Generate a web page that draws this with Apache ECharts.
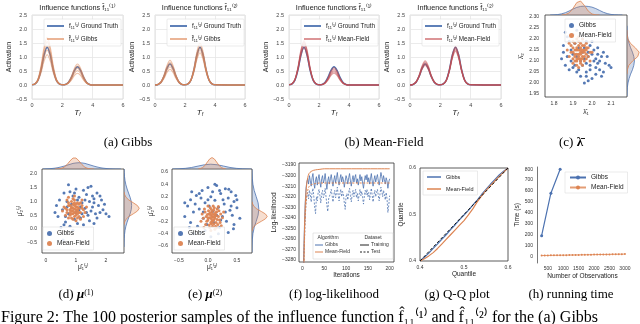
<!DOCTYPE html>
<html><head><meta charset="utf-8">
<script src="https://cdn.jsdelivr.net/npm/echarts@6/dist/echarts.min.js"></script>
<style>html,body{margin:0;padding:0;background:#fff}#c{width:640px;height:324px}</style>
</head><body><div id="c"></div>
<script>
// ---------------- DATA ----------------
const T_GRID = [0,0.2,0.4,0.6,0.8,1.0,1.2,1.4,1.6,1.8,2.0,2.2,2.4,2.6,2.8,3.0,3.2,3.4,3.6,3.8,4.0,6.0];
const TRUTH_F1 = [0.01,0.04,0.18,0.55,1.08,1.35,1.08,0.55,0.18,0.04,0.01,0.02,0.09,0.27,0.52,0.65,0.52,0.27,0.09,0.02,0,0];
const TRUTH_F2 = [0,0.02,0.10,0.31,0.60,0.75,0.60,0.31,0.10,0.02,0.01,0.04,0.18,0.55,1.08,1.35,1.08,0.55,0.18,0.04,0.01,0];
const GIBBS_F1 = [
 [0.01,0.03,0.15,0.44,0.86,1.08,0.86,0.44,0.15,0.03,0.01,0.01,0.06,0.17,0.34,0.42,0.34,0.17,0.06,0.01,0,0],
 [0.01,0.04,0.17,0.51,1.00,1.25,1.00,0.51,0.17,0.04,0.01,0.02,0.07,0.21,0.42,0.52,0.42,0.21,0.07,0.02,0,0],
 [0.01,0.04,0.19,0.57,1.12,1.40,1.12,0.57,0.19,0.04,0.01,0.02,0.08,0.25,0.48,0.60,0.48,0.25,0.08,0.02,0,0],
 [0.01,0.05,0.21,0.64,1.24,1.55,1.24,0.64,0.21,0.05,0.01,0.02,0.09,0.28,0.54,0.68,0.54,0.28,0.09,0.02,0,0],
 [0.01,0.05,0.23,0.70,1.36,1.70,1.36,0.70,0.23,0.05,0.01,0.02,0.10,0.31,0.60,0.75,0.60,0.31,0.10,0.02,0,0]];
const GIBBS_F2 = [
 [0,0.02,0.08,0.23,0.45,0.56,0.45,0.23,0.08,0.02,0.01,0.03,0.16,0.47,0.92,1.15,0.92,0.47,0.16,0.03,0.01,0],
 [0,0.02,0.09,0.27,0.52,0.65,0.52,0.27,0.09,0.02,0.01,0.04,0.17,0.51,0.99,1.24,0.99,0.51,0.17,0.04,0.01,0],
 [0,0.02,0.10,0.30,0.58,0.73,0.58,0.30,0.10,0.02,0.01,0.04,0.18,0.54,1.06,1.32,1.06,0.54,0.18,0.04,0.01,0],
 [0,0.02,0.11,0.33,0.64,0.80,0.64,0.33,0.11,0.02,0.01,0.04,0.19,0.57,1.12,1.40,1.12,0.57,0.19,0.04,0.01,0],
 [0,0.03,0.12,0.36,0.70,0.88,0.70,0.36,0.12,0.03,0.01,0.05,0.20,0.62,1.20,1.50,1.20,0.62,0.20,0.05,0.01,0]];
const MF_F1 = [
 [0.01,0.04,0.18,0.55,1.06,1.33,1.06,0.55,0.18,0.04,0.01,0.01,0.06,0.17,0.34,0.42,0.34,0.17,0.06,0.01,0,0],
 [0.01,0.04,0.19,0.57,1.12,1.40,1.12,0.57,0.19,0.04,0.01,0.01,0.06,0.19,0.38,0.47,0.38,0.19,0.06,0.01,0,0],
 [0.01,0.04,0.20,0.60,1.17,1.46,1.17,0.60,0.20,0.04,0.01,0.02,0.07,0.21,0.42,0.52,0.42,0.21,0.07,0.02,0,0],
 [0.01,0.05,0.21,0.62,1.22,1.52,1.22,0.62,0.21,0.05,0.01,0.02,0.08,0.23,0.46,0.57,0.46,0.23,0.08,0.02,0,0],
 [0.01,0.05,0.21,0.65,1.26,1.58,1.26,0.65,0.21,0.05,0.01,0.02,0.08,0.25,0.50,0.62,0.50,0.25,0.08,0.02,0,0]];
const MF_F2 = [
 [0,0.02,0.09,0.29,0.56,0.70,0.56,0.29,0.09,0.02,0.01,0.04,0.16,0.49,0.96,1.20,0.96,0.49,0.16,0.04,0.01,0],
 [0,0.02,0.10,0.30,0.59,0.74,0.59,0.30,0.10,0.02,0.01,0.04,0.17,0.51,1.00,1.25,1.00,0.51,0.17,0.04,0.01,0],
 [0,0.02,0.11,0.32,0.62,0.78,0.62,0.32,0.11,0.02,0.01,0.04,0.17,0.53,1.03,1.29,1.03,0.53,0.17,0.04,0.01,0],
 [0,0.02,0.11,0.34,0.66,0.82,0.66,0.34,0.11,0.02,0.01,0.04,0.18,0.55,1.06,1.33,1.06,0.55,0.18,0.04,0.01,0],
 [0,0.03,0.12,0.35,0.69,0.86,0.69,0.35,0.12,0.03,0.01,0.04,0.18,0.56,1.10,1.37,1.10,0.56,0.18,0.04,0.01,0]];

const LAMBDA_GIBBS = [[1.86,2.23],[1.87,2.21],[1.85,2.17],[1.84,2.11],[1.88,2.19],[1.90,2.22],[1.92,2.24],[1.95,2.20],[1.97,2.19],[1.99,2.17],[2.01,2.15],[2.03,2.13],[2.05,2.12],[2.07,2.09],[2.09,2.08],[2.06,2.05],[2.04,2.06],[2.02,2.04],[2.00,2.02],[1.98,2.01],[1.96,2.00],[1.97,2.05],[1.99,2.08],[2.01,2.10],[2.03,2.09],[1.94,2.03],[1.92,2.05],[1.90,2.07],[1.88,2.06],[1.86,2.08],[1.87,2.12],[1.89,2.10],[1.91,2.08],[1.93,2.06],[1.95,2.08],[1.96,2.11],[1.98,2.12],[2.00,2.13],[2.02,2.07],[2.04,2.10],[2.06,2.14],[2.08,2.12],[1.99,2.06],[1.97,2.09],[1.95,2.14],[1.93,2.16],[1.91,2.18],[1.89,2.15],[1.94,2.10],[2.00,2.19],[1.96,2.16],[2.05,2.03],[1.92,2.12],[1.98,2.14],[2.02,2.11],[1.90,2.13],[2.10,2.07],[1.85,2.14],[2.03,2.16],[1.97,2.03]];
const LAMBDA_MF = [[1.93,2.13],[1.94,2.14],[1.92,2.15],[1.95,2.12],[1.91,2.13],[1.96,2.15],[1.93,2.17],[1.94,2.11],[1.90,2.16],[1.97,2.13],[1.92,2.10],[1.95,2.17],[1.89,2.14],[1.98,2.16],[1.93,2.19],[1.94,2.09],[1.91,2.18],[1.96,2.10],[1.88,2.12],[1.99,2.14],[1.92,2.20],[1.95,2.08],[1.90,2.11],[1.97,2.18],[1.93,2.15],[1.94,2.16],[1.92,2.13],[1.95,2.14],[1.91,2.15],[1.96,2.12],[1.90,2.19],[1.97,2.11],[1.89,2.17],[1.98,2.12],[1.93,2.11],[1.94,2.18],[1.92,2.08],[1.95,2.20],[1.91,2.10],[1.96,2.17],[1.93,2.07],[1.94,2.13],[1.87,2.15],[2.00,2.14],[1.92,2.16],[1.95,2.15],[1.91,2.12],[1.96,2.14],[1.90,2.14],[1.97,2.15],[1.93,2.21],[1.94,2.10],[1.88,2.18],[1.99,2.10],[1.92,2.11],[1.95,2.11],[1.90,2.09],[1.97,2.16],[1.93,2.12],[1.94,2.15]];
const MU1_GIBBS = [[0.75,1.60],[1.50,1.55],[1.00,1.45],[1.25,1.40],[0.60,1.30],[1.70,1.30],[0.90,1.20],[1.35,1.25],[1.60,1.10],[1.85,1.05],[0.45,1.05],[1.10,1.15],[1.45,1.00],[0.70,1.00],[1.20,0.95],[1.95,0.90],[1.75,0.85],[0.35,0.85],[1.55,0.80],[1.30,0.75],[2.00,0.55],[2.10,0.45],[1.80,0.60],[1.65,0.55],[1.40,0.50],[0.85,0.90],[1.05,1.05],[0.55,0.70],[1.15,0.40],[0.95,0.35],[1.45,0.30],[0.65,0.25],[0.50,0.05],[0.60,0.15],[0.80,0.10],[1.25,0.15],[0.90,-0.05],[0.57,-0.40],[1.60,0.20],[1.35,0.60],[1.00,0.60],[0.75,0.55],[1.90,0.70],[1.15,0.80],[1.55,1.20],[0.80,1.35],[1.30,1.05],[0.40,0.45],[1.70,0.40],[1.05,0.20],[0.70,0.80],[1.50,0.65],[1.20,0.55],[0.95,1.30],[1.80,1.20],[0.30,0.60],[1.40,1.50],[1.10,0.70],[0.65,0.45],[1.60,0.95]];
const MU1_MF = [[0.95,0.72],[0.85,0.80],[1.05,0.65],[0.90,0.55],[1.00,0.90],[0.80,0.70],[1.10,0.75],[0.95,0.45],[0.75,0.85],[1.15,0.60],[0.85,1.00],[1.05,0.95],[0.70,0.60],[1.20,0.85],[0.90,0.35],[1.00,0.50],[0.65,0.75],[1.25,0.70],[0.95,1.05],[0.80,0.50],[1.10,0.45],[0.85,0.65],[1.05,0.80],[0.90,0.90],[1.00,0.70],[0.75,0.95],[1.15,0.95],[0.60,0.80],[1.30,0.60],[0.95,0.60],[0.85,0.40],[1.05,0.40],[0.70,1.05],[1.20,1.05],[0.90,0.75],[1.00,0.80],[0.80,0.85],[1.10,0.90],[0.95,0.85],[0.85,0.55],[1.10,0.60],[0.65,0.50],[1.25,0.45],[0.95,1.20],[0.75,0.40],[1.15,0.35],[0.90,0.65],[1.00,0.60],[0.80,0.60],[1.05,0.55],[0.55,0.65],[1.35,0.80],[0.90,1.10],[1.00,0.30],[0.70,0.70],[1.20,0.75],[0.85,0.75],[1.05,0.70],[0.95,0.95],[0.75,1.15]];
const MU2_GIBBS = [[0.00,0.35],[0.15,0.38],[0.30,0.33],[-0.10,0.30],[0.40,0.28],[0.22,0.25],[-0.20,0.22],[0.05,0.20],[0.35,0.18],[-0.30,0.15],[0.45,0.12],[0.12,0.14],[-0.05,0.10],[0.28,0.08],[-0.35,0.05],[0.50,0.02],[0.18,0.03],[-0.15,0.00],[0.38,-0.02],[-0.25,-0.05],[0.08,-0.04],[0.42,-0.10],[-0.40,-0.12],[0.25,-0.12],[-0.08,-0.15],[0.32,-0.20],[-0.30,-0.22],[0.45,-0.25],[0.10,-0.22],[-0.18,-0.28],[0.20,-0.30],[-0.05,-0.35],[0.35,-0.38],[-0.25,-0.40],[0.05,-0.45],[0.15,-0.10],[-0.12,0.18],[0.20,0.30],[0.48,0.22],[-0.22,0.08],[0.02,0.05],[0.30,-0.05],[-0.02,-0.25],[0.40,0.05],[-0.32,-0.30],[0.12,0.40],[0.26,0.15],[-0.15,0.25],[0.55,-0.15],[0.08,0.28],[-0.08,-0.05],[0.36,0.32],[-0.28,0.28],[0.18,-0.40],[0.50,0.15],[-0.40,0.10],[0.22,-0.18],[-0.12,-0.38],[0.00,0.15],[0.44,-0.32]];
const MU2_MF = [[0.07,-0.12],[0.02,-0.08],[0.12,-0.15],[0.00,-0.18],[0.15,-0.05],[0.05,-0.22],[0.10,-0.02],[-0.03,-0.12],[0.18,-0.12],[0.08,-0.28],[0.04,0.02],[0.14,-0.22],[-0.05,-0.05],[0.20,-0.18],[0.06,-0.16],[0.11,-0.09],[-0.02,-0.20],[0.16,0.00],[0.03,-0.30],[0.13,-0.28],[0.09,0.05],[-0.08,-0.15],[0.22,-0.08],[0.01,-0.03],[0.17,-0.25],[0.07,-0.05],[0.05,-0.10],[0.10,-0.18],[-0.04,-0.25],[0.25,-0.14],[0.00,0.05],[0.12,-0.33],[0.08,-0.20],[0.14,-0.10],[-0.10,-0.08],[0.19,-0.03],[0.03,-0.14],[0.09,-0.13],[0.06,-0.24],[0.16,-0.17],[-0.06,0.00],[0.11,0.02],[0.02,-0.26],[0.21,-0.22],[0.04,-0.06],[0.13,-0.06],[0.07,-0.19],[-0.01,-0.09],[0.15,-0.30],[0.10,-0.24],[0.27,-0.05],[-0.12,-0.20],[0.05,-0.35],[0.18,0.04],[0.08,-0.08],[0.00,-0.14],[0.12,-0.12],[0.06,-0.01],[0.23,-0.27],[-0.07,-0.30]];

// marginal KDEs: [position, density]
const C_TOP_GIBBS = [[1.78,0],[1.80,0.01],[1.82,0.03],[1.84,0.08],[1.86,0.16],[1.88,0.28],[1.90,0.42],[1.92,0.53],[1.94,0.60],[1.96,0.62],[1.98,0.60],[2.00,0.55],[2.02,0.45],[2.04,0.32],[2.06,0.19],[2.08,0.10],[2.10,0.04],[2.12,0.015],[2.14,0.005],[2.16,0]];
const C_TOP_MF = [[1.84,0],[1.86,0.03],[1.88,0.15],[1.90,0.46],[1.92,0.87],[1.94,0.98],[1.96,0.67],[1.98,0.28],[2.00,0.07],[2.02,0.01],[2.04,0]];
const C_RIGHT_GIBBS = [[1.94,0],[1.96,0.01],[1.98,0.03],[2.00,0.08],[2.02,0.17],[2.04,0.29],[2.06,0.44],[2.08,0.55],[2.10,0.60],[2.12,0.55],[2.14,0.44],[2.16,0.29],[2.18,0.17],[2.20,0.08],[2.22,0.03],[2.24,0.01],[2.26,0]];
const C_RIGHT_MF = [[2.04,0],[2.06,0.03],[2.08,0.15],[2.10,0.46],[2.12,0.87],[2.14,0.98],[2.16,0.67],[2.18,0.28],[2.20,0.07],[2.22,0.01],[2.24,0]];
const D_TOP_GIBBS = [[-0.1,0],[0.0,0.012],[0.1,0.024],[0.2,0.044],[0.3,0.074],[0.4,0.12],[0.5,0.18],[0.6,0.25],[0.7,0.33],[0.8,0.41],[0.9,0.49],[1.0,0.53],[1.1,0.55],[1.2,0.53],[1.3,0.49],[1.4,0.41],[1.5,0.33],[1.6,0.25],[1.7,0.18],[1.8,0.12],[1.9,0.074],[2.0,0.044],[2.1,0.024],[2.2,0.012],[2.3,0.006],[2.4,0.003],[2.5,0]];
const D_TOP_MF = [[0.3,0],[0.4,0.01],[0.5,0.044],[0.6,0.15],[0.7,0.38],[0.8,0.71],[0.9,0.96],[1.0,0.96],[1.1,0.71],[1.2,0.38],[1.3,0.15],[1.4,0.044],[1.5,0.01],[1.6,0]];
const D_RIGHT_GIBBS = [[-0.65,0],[-0.5,0.005],[-0.35,0.014],[-0.2,0.033],[-0.05,0.068],[0.1,0.125],[0.25,0.205],[0.4,0.30],[0.55,0.40],[0.7,0.475],[0.85,0.5],[1.0,0.475],[1.15,0.40],[1.3,0.30],[1.45,0.205],[1.6,0.125],[1.75,0.068],[1.9,0.033],[2.05,0.014],[2.17,0.005]];
const D_RIGHT_MF = [[0.15,0],[0.25,0.04],[0.35,0.13],[0.45,0.32],[0.55,0.61],[0.65,0.88],[0.75,1],[0.85,0.88],[0.95,0.61],[1.05,0.32],[1.15,0.13],[1.25,0.04],[1.35,0]];
const E_TOP_GIBBS = [[-0.61,0],[-0.5,0.018],[-0.39,0.057],[-0.28,0.135],[-0.17,0.256],[-0.06,0.37],[0.05,0.42],[0.16,0.37],[0.27,0.256],[0.38,0.135],[0.49,0.057],[0.6,0.018],[0.71,0.005],[0.75,0]];
const E_TOP_MF = [[-0.17,0],[-0.13,0.044],[-0.09,0.135],[-0.05,0.32],[-0.01,0.61],[0.03,0.88],[0.07,1],[0.11,0.88],[0.15,0.61],[0.19,0.32],[0.23,0.135],[0.27,0.044],[0.31,0]];
const E_RIGHT_GIBBS = [[-0.7,0],[-0.6,0.005],[-0.5,0.02],[-0.4,0.06],[-0.3,0.145],[-0.2,0.275],[-0.1,0.40],[0,0.45],[0.1,0.40],[0.2,0.275],[0.3,0.145],[0.4,0.06],[0.5,0.02],[0.6,0.005],[0.64,0]];
const E_RIGHT_MF = [[-0.36,0],[-0.32,0.044],[-0.28,0.135],[-0.24,0.32],[-0.2,0.61],[-0.16,0.88],[-0.12,1],[-0.08,0.88],[-0.04,0.61],[0,0.32],[0.04,0.135],[0.08,0.044],[0.12,0]];

// log-likelihood (Gibbs sampled every LL_STEP iterations)
const LL_STEP = 2;
const LL_GIBBS_TRAIN = [-3300,-3290,-3255,-3228,-3212,-3206,-3203,-3208,-3200,-3205,
 -3210,-3202,-3198,-3207,-3212,-3204,-3201,-3209,-3203,-3199,
 -3206,-3211,-3203,-3200,-3207,-3204,-3198,-3206,-3213,-3205,
 -3201,-3208,-3203,-3199,-3205,-3210,-3204,-3200,-3207,-3202,
 -3197,-3205,-3209,-3203,-3199,-3206,-3201,-3204,-3211,-3205,
 -3200,-3203,-3208,-3202,-3198,-3205,-3210,-3204,-3200,-3206,
 -3202,-3199,-3207,-3203,-3209,-3204,-3199,-3205,-3201,-3207,
 -3212,-3205,-3200,-3204,-3199,-3206,-3202,-3208,-3203,-3198,
 -3205,-3210,-3204,-3200,-3206,-3202,-3199,-3205,-3209,-3203,
 -3197,-3201,-3206,-3200,-3204,-3208,-3202,-3205,-3212,-3206,-3203];
const LL_GIBBS_TEST = [-3300,-3295,-3268,-3242,-3226,-3219,-3216,-3222,-3214,-3218,
 -3225,-3216,-3212,-3220,-3230,-3236,-3220,-3224,-3216,-3213,
 -3219,-3226,-3217,-3214,-3221,-3218,-3212,-3220,-3228,-3234,
 -3222,-3223,-3217,-3213,-3219,-3225,-3218,-3214,-3221,-3216,
 -3211,-3219,-3224,-3217,-3213,-3220,-3215,-3218,-3226,-3232,
 -3220,-3217,-3223,-3216,-3212,-3219,-3225,-3218,-3214,-3220,
 -3216,-3213,-3221,-3217,-3224,-3218,-3213,-3219,-3215,-3221,
 -3227,-3219,-3214,-3218,-3213,-3220,-3216,-3223,-3217,-3212,
 -3219,-3225,-3218,-3214,-3220,-3216,-3213,-3219,-3224,-3217,
 -3211,-3215,-3220,-3214,-3218,-3223,-3216,-3222,-3235,-3228,-3219];
const LL_MF_ITER = [0,2,4,6,8,10,12,15,20,25,30,40,50,75,100,150,200];
const LL_MF_TRAIN = [-3300,-3300,-3262,-3232,-3216,-3207,-3202,-3198,-3196,-3195,-3194.5,-3194,-3193.5,-3193.5,-3193.5,-3193.5,-3193.5];
const LL_MF_TEST = [-3300,-3300,-3272,-3243,-3227,-3219,-3214,-3210.5,-3208.5,-3208,-3207.5,-3207,-3207,-3207,-3207,-3207,-3207];

// Q-Q
const QQ_X = [0.40,0.41,0.42,0.43,0.44,0.45,0.46,0.47,0.48,0.49,0.50,0.51,0.52,0.53,0.54,0.55,0.56,0.57,0.58,0.59,0.60];
const QQ_GIBBS = [0.400,0.408,0.417,0.427,0.437,0.447,0.457,0.468,0.478,0.489,0.499,0.509,0.520,0.531,0.543,0.554,0.565,0.575,0.585,0.593,0.600];
const QQ_MF = [0.400,0.405,0.411,0.418,0.427,0.437,0.447,0.457,0.467,0.477,0.487,0.499,0.512,0.527,0.540,0.552,0.562,0.572,0.582,0.591,0.600];
const QQ_REF = [0.4,0.6];

// running time
const RT_GIBBS_N = [300,600,900];
const RT_GIBBS = [190,580,800];
const RT_MF_N = [300,400,500,600,700,800,900,1000,1100,1200,1300,1400,1500,1600,1700,1800,1900,2000,2100,2200,2300,2400,2500,2600,2700,2800,2900,3000];
const RT_MF = [8,9,9,10,10,11,11,12,12,13,13,14,14,15,15,16,16,17,17,18,18,19,19,20,20,21,21,22];

// tick labels
const C_X_TICKS = [1.8,1.9,2.0,2.1];
const C_Y_TICKS = [1.95,2.00,2.05,2.10,2.15,2.20,2.25,2.30];
const D_X_TICKS = [0,1,2];
const D_Y_TICKS = [-0.5,0,0.5,1.0,1.5,2.0];
const E_X_TICKS = [-0.5,0,0.5];
const E_Y_TICKS = [-0.6,-0.4,-0.2,0,0.2,0.4,0.6];
const F_X_TICKS = [0,50,100,150,200];
const F_Y_TICKS = [-3280,-3270,-3260,-3250,-3240,-3230,-3220,-3210,-3200,-3190];
const H_X_TICKS = [500,1000,1500,2000,2500,3000];
const H_Y_TICKS = [0,100,200,300,400,500,600,700,800];

// ---------------- STYLE / BUILD ----------------
const BLUE='#4C72B0', ORANGE='#DD8452', RED='#C44E52';
const FONT='"Liberation Sans", Arial, sans-serif';
const SERIF='"Liberation Serif", "Times New Roman", serif';
const fmt = d => v => (v < 0 ? '\u2212' : '') + Math.abs(v).toFixed(d);

const grid=[], xAxis=[], yAxis=[], series=[], legend=[], title=[], graphic=[];
function panel(g, xa, ya){ const i=grid.length; grid.push(g); xa.gridIndex=i; ya.gridIndex=i; xAxis.push(xa); yAxis.push(ya); return i; }
function hidden(min,max){ return {type:'value', show:false, min, max}; }
function boxAxis(min, max, ticks, d, name, gap, margin, extra){
  return Object.assign({type:'value', min, max, axisLine:{show:false}, axisTick:{show:false}, splitLine:{show:false},
    axisLabel:{customValues:ticks, formatter:fmt(d), fontSize:5, color:'#333', fontFamily:FONT, margin:margin},
    name, nameLocation:'middle', nameGap:gap, nameTextStyle:{fontSize:6.5, color:'#222', fontFamily:FONT}}, extra||{});
}
const LBL = {};

// top row
const TOP = [
 {left:32, width:91, truth:TRUTH_F1, samples:GIBBS_F1, color:ORANGE, t:'Influence functions f\u0302\u2081\u2081\u207D\u00B9\u207E', tn:'f\u2081\u2081\u207D\u00B9\u207E Ground Truth', sn:'f\u0302\u2081\u2081\u207D\u00B9\u207E Gibbs'},
 {left:155, width:90, truth:TRUTH_F2, samples:GIBBS_F2, color:ORANGE, t:'Influence functions f\u0302\u2081\u2081\u207D\u00B2\u207E', tn:'f\u2081\u2081\u207D\u00B2\u207E Ground Truth', sn:'f\u0302\u2081\u2081\u207D\u00B2\u207E Gibbs'},
 {left:289, width:90, truth:TRUTH_F1, samples:MF_F1, color:RED, t:'Influence functions f\u0302\u2081\u2081\u207D\u00B9\u207E', tn:'f\u2081\u2081\u207D\u00B9\u207E Ground Truth', sn:'f\u0302\u2081\u2081\u207D\u00B9\u207E Mean-Field'},
 {left:410, width:91, truth:TRUTH_F2, samples:MF_F2, color:RED, t:'Influence functions f\u0302\u2081\u2081\u207D\u00B2\u207E', tn:'f\u2081\u2081\u207D\u00B2\u207E Ground Truth', sn:'f\u0302\u2081\u2081\u207D\u00B2\u207E Mean-Field'}];
TOP.forEach(P => {
  const gi = panel({left:P.left, top:15, width:P.width, height:84, show:true, borderColor:'#d6d6d6', borderWidth:0.8},
    {type:'value', min:0, max:6, interval:2, axisLine:{show:false}, axisTick:{show:false},
     splitLine:{show:true, lineStyle:{color:'#e6e6e6', width:0.8}},
     axisLabel:{fontSize:5.5, color:'#444', margin:3, fontFamily:FONT},
     name:'{i|T}{s|f}', nameLocation:'middle', nameGap:8,
     nameTextStyle:{rich:{i:{fontSize:8, fontStyle:'italic', fontFamily:FONT, color:'#222'}, s:{fontSize:5, fontStyle:'italic', fontFamily:FONT, color:'#222', verticalAlign:'bottom'}}}},
    {type:'value', min:-0.5, max:2.5, interval:0.5, axisLine:{show:false}, axisTick:{show:false},
     splitLine:{show:true, lineStyle:{color:'#e6e6e6', width:0.8}},
     axisLabel:{fontSize:5.5, color:'#444', margin:5, fontFamily:FONT, formatter:fmt(1)},
     name:'Activation', nameLocation:'middle', nameGap:16, nameTextStyle:{fontSize:7, color:'#222', fontFamily:FONT}});
  series.push({type:'line', name:P.tn, xAxisIndex:gi, yAxisIndex:gi, data:T_GRID.map((t,i)=>[t,P.truth[i]]),
    symbol:'none', smooth:0.35, lineStyle:{color:BLUE, width:1.6}, itemStyle:{color:BLUE}, z:2});
  P.samples.forEach(s => series.push({type:'line', name:P.sn, xAxisIndex:gi, yAxisIndex:gi, data:T_GRID.map((t,i)=>[t,s[i]]),
    symbol:'none', smooth:0.35, lineStyle:{color:P.color, width:1.1, opacity:0.5}, itemStyle:{color:P.color}, z:3}));
  legend.push({left:P.left+12, top:19, orient:'vertical', icon:'rect', itemWidth:17, itemHeight:2, itemGap:7,
    data:[{name:P.tn, itemStyle:{color:BLUE, opacity:0.9}}, {name:P.sn, itemStyle:{color:P.color, opacity:0.6}}],
    padding:[4,3,4,3], backgroundColor:'rgba(255,255,255,0.8)', borderColor:'#dddddd', borderWidth:0.6, borderRadius:1,
    textStyle:{fontSize:6.3, color:'#222', fontFamily:FONT}});
  title.push({text:P.t, left:P.left+P.width/2, top:4, textAlign:'center', padding:0,
    textStyle:{fontSize:7.3, fontWeight:'normal', color:'#222', fontFamily:FONT}});
});

function kde(name, pairs, color, gi, vertical){
  series.push({type:'custom', name, xAxisIndex:gi, yAxisIndex:gi, data:[[0,0]], silent:true, clip:true, z:2,
    renderItem(params, api){
      const pts = pairs.map(p => vertical ? api.coord([p[1], p[0]]) : api.coord([p[0], p[1]]));
      const f = pairs[0][0], l = pairs[pairs.length-1][0];
      const b0 = vertical ? api.coord([0, f]) : api.coord([f, 0]);
      const b1 = vertical ? api.coord([0, l]) : api.coord([l, 0]);
      return {type:'group', children:[
        {type:'polygon', shape:{points:[b0].concat(pts,[b1])}, style:{fill:color, opacity:0.27}},
        {type:'polyline', shape:{points:pts}, style:{stroke:color, lineWidth:0.8, fill:null}}]};
    }});
}
const boxGrid = (l,t,w,h) => ({left:l, top:t, width:w, height:h, show:true, borderColor:'#333', borderWidth:0.8});

function joint(cfg){
  const gm = panel(boxGrid(cfg.l, cfg.t, cfg.w, cfg.h),
    boxAxis(cfg.x0, cfg.x1, cfg.xt, cfg.xd, cfg.xn, cfg.xg, cfg.xm),
    boxAxis(cfg.y0, cfg.y1, cfg.yt, cfg.yd, cfg.yn, cfg.yg, cfg.ym));
  const gt = panel({left:cfg.l, top:cfg.t-cfg.mt, width:cfg.w, height:cfg.mt}, hidden(cfg.x0,cfg.x1), hidden(0,1.05));
  const gr = panel({left:cfg.l+cfg.w, top:cfg.t, width:cfg.mr, height:cfg.h}, hidden(0,1.05), hidden(cfg.y0,cfg.y1));
  LBL[cfg.id+'g']='Gibbs'; LBL[cfg.id+'m']='Mean-Field';
  series.push({type:'scatter', name:cfg.id+'g', xAxisIndex:gm, yAxisIndex:gm, data:cfg.g, symbolSize:3, itemStyle:{color:BLUE, opacity:0.95}});
  series.push({type:'scatter', name:cfg.id+'m', xAxisIndex:gm, yAxisIndex:gm, data:cfg.m, symbolSize:3, itemStyle:{color:ORANGE, opacity:0.95}});
  kde(cfg.id+'tg', cfg.tg, BLUE, gt, false); kde(cfg.id+'tm', cfg.tm, ORANGE, gt, false);
  kde(cfg.id+'rg', cfg.rg, BLUE, gr, true); kde(cfg.id+'rm', cfg.rm, ORANGE, gr, true);
  legend.push({left:cfg.lx, top:cfg.ly, orient:'vertical', data:[cfg.id+'g', cfg.id+'m'], formatter:n=>LBL[n],
    itemWidth:5, itemHeight:5, itemGap:3, padding:[3,4], backgroundColor:'rgba(255,255,255,0.85)', borderColor:'#dddddd', borderWidth:0.6,
    textStyle:{fontSize:6.5, color:'#222', fontFamily:FONT}});
}
joint({id:'c', l:545, t:15, w:82, h:82, mt:15, mr:13, x0:1.753, x1:2.184, xt:C_X_TICKS, xd:1, xn:'\u03BB\u0302\u2081', xg:12, xm:4,
  y0:1.936, y1:2.309, yt:C_Y_TICKS, yd:2, yn:'\u03BB\u0302\u2082', yg:20, ym:6, g:LAMBDA_GIBBS, m:LAMBDA_MF,
  tg:C_TOP_GIBBS, tm:C_TOP_MF, rg:C_RIGHT_GIBBS, rm:C_RIGHT_MF, lx:565, ly:19});
joint({id:'d', l:42, t:169, w:82, h:84, mt:12, mr:16, x0:-0.133, x1:2.6, xt:D_X_TICKS, xd:0, xn:'\u03BC\u0302\u2081\u207D\u00B9\u207E', xg:10, xm:5,
  y0:-0.87, y1:2.174, yt:D_Y_TICKS, yd:1, yn:'\u03BC\u0302\u2082\u207D\u00B9\u207E', yg:13, ym:5, g:MU1_GIBBS, m:MU1_MF,
  tg:D_TOP_GIBBS, tm:D_TOP_MF, rg:D_RIGHT_GIBBS, rm:D_RIGHT_MF, lx:43, ly:227});
joint({id:'e', l:172, t:169, w:80, h:84, mt:12, mr:16, x0:-0.62, x1:0.76, xt:E_X_TICKS, xd:1, xn:'\u03BC\u0302\u2081\u207D\u00B2\u207E', xg:10, xm:5,
  y0:-0.713, y1:0.648, yt:E_Y_TICKS, yd:1, yn:'\u03BC\u0302\u2082\u207D\u00B2\u207E', yg:13, ym:4, g:MU2_GIBBS, m:MU2_MF,
  tg:E_TOP_GIBBS, tm:E_TOP_MF, rg:E_RIGHT_GIBBS, rm:E_RIGHT_MF, lx:174, ly:227});

// (f) log-likelihood
const gf = panel(boxGrid(299,163,95,99), boxAxis(-8,210,F_X_TICKS,0,'Iterations',10,4), boxAxis(-3282,-3188,F_Y_TICKS,0,'Log-likelihood',20,3));
series.push({type:'line', name:'f_gt', xAxisIndex:gf, yAxisIndex:gf, data:LL_GIBBS_TRAIN.map((v,i)=>[i*LL_STEP,v]), symbol:'none', lineStyle:{color:BLUE,width:0.8}});
series.push({type:'line', name:'f_gs', xAxisIndex:gf, yAxisIndex:gf, data:LL_GIBBS_TEST.map((v,i)=>[i*LL_STEP,v]), symbol:'none', lineStyle:{color:BLUE,width:0.8,type:[2,1.5]}});
series.push({type:'line', name:'f_mt', xAxisIndex:gf, yAxisIndex:gf, data:LL_MF_ITER.map((t,i)=>[t,LL_MF_TRAIN[i]]), symbol:'none', smooth:0.3, lineStyle:{color:ORANGE,width:1}});
series.push({type:'line', name:'f_ms', xAxisIndex:gf, yAxisIndex:gf, data:LL_MF_ITER.map((t,i)=>[t,LL_MF_TEST[i]]), symbol:'none', smooth:0.3, lineStyle:{color:ORANGE,width:1,type:[2,1.5]}});
const lt = {fontSize:5, fontFamily:FONT, fill:'#333'};
graphic.push(
 {type:'rect', shape:{x:313,y:233,width:80,height:26}, style:{fill:'rgba(255,255,255,0.85)', stroke:'#cccccc', lineWidth:0.5}, z:50},
 {type:'text', x:328, y:238, style:Object.assign({text:'Algorithm', align:'center', verticalAlign:'middle', textAlign:'center', textVerticalAlign:'middle'},lt), z:51},
 {type:'text', x:373, y:238, style:Object.assign({text:'Dataset', align:'center', verticalAlign:'middle', textAlign:'center', textVerticalAlign:'middle'},lt), z:51},
 {type:'text', x:325, y:245, style:Object.assign({text:'Gibbs', align:'left', verticalAlign:'middle', textAlign:'left', textVerticalAlign:'middle'},lt), z:51},
 {type:'text', x:325, y:252, style:Object.assign({text:'Mean-Field', align:'left', verticalAlign:'middle', textAlign:'left', textVerticalAlign:'middle'},lt), z:51},
 {type:'text', x:371, y:245, style:Object.assign({text:'Training', align:'left', verticalAlign:'middle', textAlign:'left', textVerticalAlign:'middle'},lt), z:51},
 {type:'text', x:371, y:252, style:Object.assign({text:'Test', align:'left', verticalAlign:'middle', textAlign:'left', textVerticalAlign:'middle'},lt), z:51},
 {type:'line', shape:{x1:315,y1:245,x2:323,y2:245}, style:{stroke:BLUE,lineWidth:1}, z:51},
 {type:'line', shape:{x1:315,y1:252,x2:323,y2:252}, style:{stroke:ORANGE,lineWidth:1}, z:51},
 {type:'line', shape:{x1:360,y1:245,x2:369,y2:245}, style:{stroke:'#222',lineWidth:1}, z:51},
 {type:'line', shape:{x1:360,y1:252,x2:369,y2:252}, style:{stroke:'#222',lineWidth:1,lineDash:[2,1.5]}, z:51});

// (g) Q-Q
const gg = panel(boxGrid(420,168,88,93),
  boxAxis(0.4,0.6,[0.4,0.5,0.6],1,'Quantile',10,4,{interval:0.1}),
  boxAxis(0.4,0.6,[0.4,0.5,0.6],1,'Quantile',13,4,{interval:0.1}));
LBL.g_g='Gibbs'; LBL.g_m='Mean-Field';
series.push({type:'line', name:'g_g', xAxisIndex:gg, yAxisIndex:gg, data:QQ_X.map((x,i)=>[x,QQ_GIBBS[i]]), symbol:'none', lineStyle:{color:BLUE,width:1.2}, itemStyle:{color:BLUE}});
series.push({type:'line', name:'g_m', xAxisIndex:gg, yAxisIndex:gg, data:QQ_X.map((x,i)=>[x,QQ_MF[i]]), symbol:'none', lineStyle:{color:ORANGE,width:1.2}, itemStyle:{color:ORANGE}});
series.push({type:'line', name:'g_ref', xAxisIndex:gg, yAxisIndex:gg, data:QQ_REF.map(v=>[v,v]), symbol:'none', lineStyle:{color:'#111',width:1,type:[3,2]}, z:4});
legend.push({left:423, top:171, orient:'vertical', icon:'rect', itemWidth:14, itemHeight:1.5, itemGap:6,
  data:[{name:'g_g', itemStyle:{color:BLUE}}, {name:'g_m', itemStyle:{color:ORANGE}}], formatter:n=>LBL[n],
  padding:[3,4], backgroundColor:'rgba(255,255,255,0.85)', borderColor:'#dddddd', borderWidth:0.6,
  textStyle:{fontSize:5.5, color:'#222', fontFamily:FONT}});

// (h) running time
const gh = panel({left:537, top:167, width:91, height:96},
  boxAxis(150,3100,H_X_TICKS,0,'Number of Observations',10,3),
  boxAxis(-60,820,H_Y_TICKS,0,'Time (s)',14,4,{axisLine:{show:true, lineStyle:{color:'#555', width:0.8}}}));
LBL.h_g='Gibbs'; LBL.h_m='Mean-Field';
series.push({type:'line', name:'h_g', xAxisIndex:gh, yAxisIndex:gh, data:RT_GIBBS_N.map((n,i)=>[n,RT_GIBBS[i]]), symbol:'circle', symbolSize:3, lineStyle:{color:BLUE,width:1.2}, itemStyle:{color:BLUE}});
series.push({type:'line', name:'h_m', xAxisIndex:gh, yAxisIndex:gh, data:RT_MF_N.map((n,i)=>[n,RT_MF[i]]), symbol:'circle', symbolSize:2, lineStyle:{color:ORANGE,width:1,opacity:0.8}, itemStyle:{color:ORANGE}});
legend.push({left:565, top:172, orient:'vertical', data:['h_g','h_m'], formatter:n=>LBL[n], itemWidth:16, itemHeight:5, itemGap:3,
  padding:[2,4], backgroundColor:'rgba(255,255,255,0.85)', borderColor:'#dddddd', borderWidth:0.6,
  textStyle:{fontSize:6.5, color:'#222', fontFamily:FONT}});

// captions
function cap(x, y, text, rich, size){
  graphic.push({type:'text', x, y, z:60, style:{text, rich:rich||{}, fontSize:size||13, fontFamily:SERIF, fill:'#000',
    align:'center', verticalAlign:'middle', textAlign:'center', textVerticalAlign:'middle'}});
}
const MU = {m:{fontSize:13, fontWeight:'bold', fontStyle:'italic', fontFamily:SERIF}, s:{fontSize:8, fontFamily:SERIF, verticalAlign:'top'}};
cap(128,143,'(a) Gibbs');
cap(384,143,'(b) Mean-Field');
cap(571,143,'(c) {b|\u03BB\u0304}', {b:{fontSize:13, fontWeight:'bold', fontFamily:SERIF}});
cap(76,295,'(d) {m|\u03BC}{s|(1)}', MU);
cap(205,295,'(e) {m|\u03BC}{s|(2)}', MU);
cap(334,295,'(f) log-likelihood');
cap(457,295,'(g) Q-Q plot');
cap(571,295,'(h) running time');
graphic.push({type:'text', x:1, y:318, z:60, style:{text:'Figure 2: The 100 posterior samples of the influence function f\u0302\u2081\u2081\u207D\u00B9\u207E and f\u0302\u2081\u2081\u207D\u00B2\u207E for the (a) Gibbs',
  fontSize:16, fontFamily:SERIF, fill:'#000', align:'left', verticalAlign:'middle', textAlign:'left', textVerticalAlign:'middle'}});

const chart = echarts.init(document.getElementById('c'), null, {renderer:'canvas'});
chart.setOption({animation:false, backgroundColor:'#fff', grid, xAxis, yAxis, series, legend, title, graphic});
</script></body></html>
